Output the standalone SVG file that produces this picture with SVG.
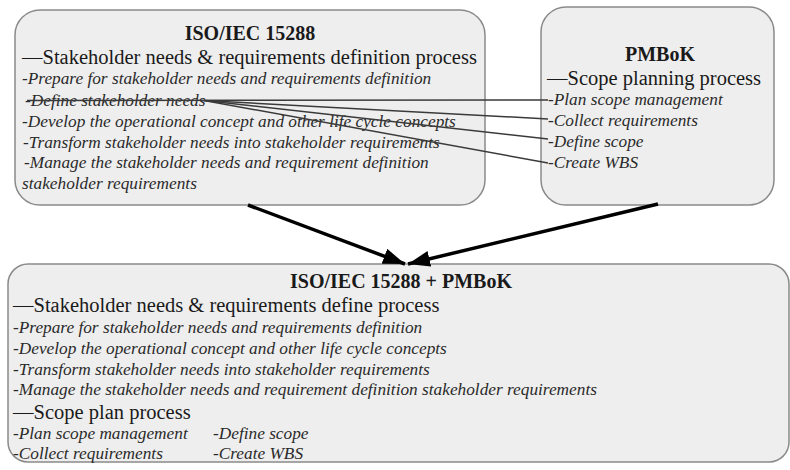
<svg xmlns="http://www.w3.org/2000/svg" width="790" height="470" viewBox="0 0 790 470">
  <style>
    .box { fill: #eeeeee; stroke: #8a8a8a; stroke-width: 1.5; }
    .title { font-family: "Liberation Serif", "Times New Roman", serif; font-size: 20px; font-weight: bold; fill: #1a1a1a; text-anchor: middle; }
    .head { font-family: "Liberation Serif", "Times New Roman", serif; font-size: 20.5px; fill: #1a1a1a; }
    .item { font-family: "Liberation Serif", "Times New Roman", serif; font-size: 17.3px; font-style: italic; fill: #2a2a2a; }
    .link { stroke: #3a3a3a; stroke-width: 1.5; fill: none; }
    .flow { stroke: #000000; stroke-width: 3.5; fill: none; }
  </style>
  <defs>
    <marker id="arrowhead" markerUnits="userSpaceOnUse" markerWidth="24" markerHeight="18" refX="22" refY="8" orient="auto">
      <path d="M0,0 L22,8 L0,16 Z" fill="#000000"/>
    </marker>
  </defs>
  <rect width="790" height="470" fill="#ffffff"/>

  <!-- ISO/IEC 15288 process box -->
  <g id="iso15288">
    <rect class="box" x="15" y="10" width="470" height="195" rx="25" ry="25"/>
    <text class="title" x="250" y="40">ISO/IEC 15288</text>
    <text class="head" x="22" y="64">—Stakeholder needs &amp; requirements definition process</text>
    <text class="item" x="22" y="84">-Prepare for stakeholder needs and requirements definition</text>
    <text class="item" x="25" y="106">-Define stakeholder needs</text>
    <text class="item" x="22" y="127">-Develop the operational concept and other life cycle concepts</text>
    <text class="item" x="23" y="148">-Transform stakeholder needs into stakeholder requirements</text>
    <text class="item" x="24" y="168">-Manage the stakeholder needs and requirement definition</text>
    <text class="item" x="22" y="189">stakeholder requirements</text>
  </g>

  <!-- PMBoK scope planning box -->
  <g id="pmbok">
    <rect class="box" x="541" y="7" width="233" height="198" rx="25" ry="25"/>
    <text class="title" x="660" y="61">PMBoK</text>
    <text class="head" x="547" y="85">—Scope planning process</text>
    <text class="item" x="548" y="105">-Plan scope management</text>
    <text class="item" x="548" y="126">-Collect requirements</text>
    <text class="item" x="548" y="147">-Define scope</text>
    <text class="item" x="548" y="168">-Create WBS</text>
  </g>

  <!-- Combined process box -->
  <g id="combined">
    <rect class="box" x="8" y="264" width="781" height="198" rx="20" ry="20"/>
    <text class="title" x="401" y="288">ISO/IEC 15288 + PMBoK</text>
    <text class="head" x="13" y="312">—Stakeholder needs &amp; requirements define process</text>
    <text class="item" x="13" y="333">-Prepare for stakeholder needs and requirements definition</text>
    <text class="item" x="13" y="354">-Develop the operational concept and other life cycle concepts</text>
    <text class="item" x="13" y="375">-Transform stakeholder needs into stakeholder requirements</text>
    <text class="item" x="13" y="395">-Manage the stakeholder needs and requirement definition stakeholder requirements</text>
    <text class="head" x="13" y="419">—Scope plan process</text>
    <text class="item" x="13" y="439">-Plan scope management</text>
    <text class="item" x="213" y="439">-Define scope</text>
    <text class="item" x="13" y="459">-Collect requirements</text>
    <text class="item" x="213" y="459">-Create WBS</text>
  </g>

  <!-- Connectors -->
  <g id="connectors">
    <line class="link" x1="27" y1="100.5" x2="548" y2="100"/>
    <line class="link" x1="204" y1="100.5" x2="548" y2="119"/>
    <line class="link" x1="204" y1="100.5" x2="548" y2="139"/>
    <line class="link" x1="204" y1="100.5" x2="548" y2="163"/>
    <line class="flow" x1="248" y1="205" x2="405" y2="264" marker-end="url(#arrowhead)"/>
    <line class="flow" x1="658" y1="204" x2="408" y2="264" marker-end="url(#arrowhead)"/>
  </g>
</svg>
